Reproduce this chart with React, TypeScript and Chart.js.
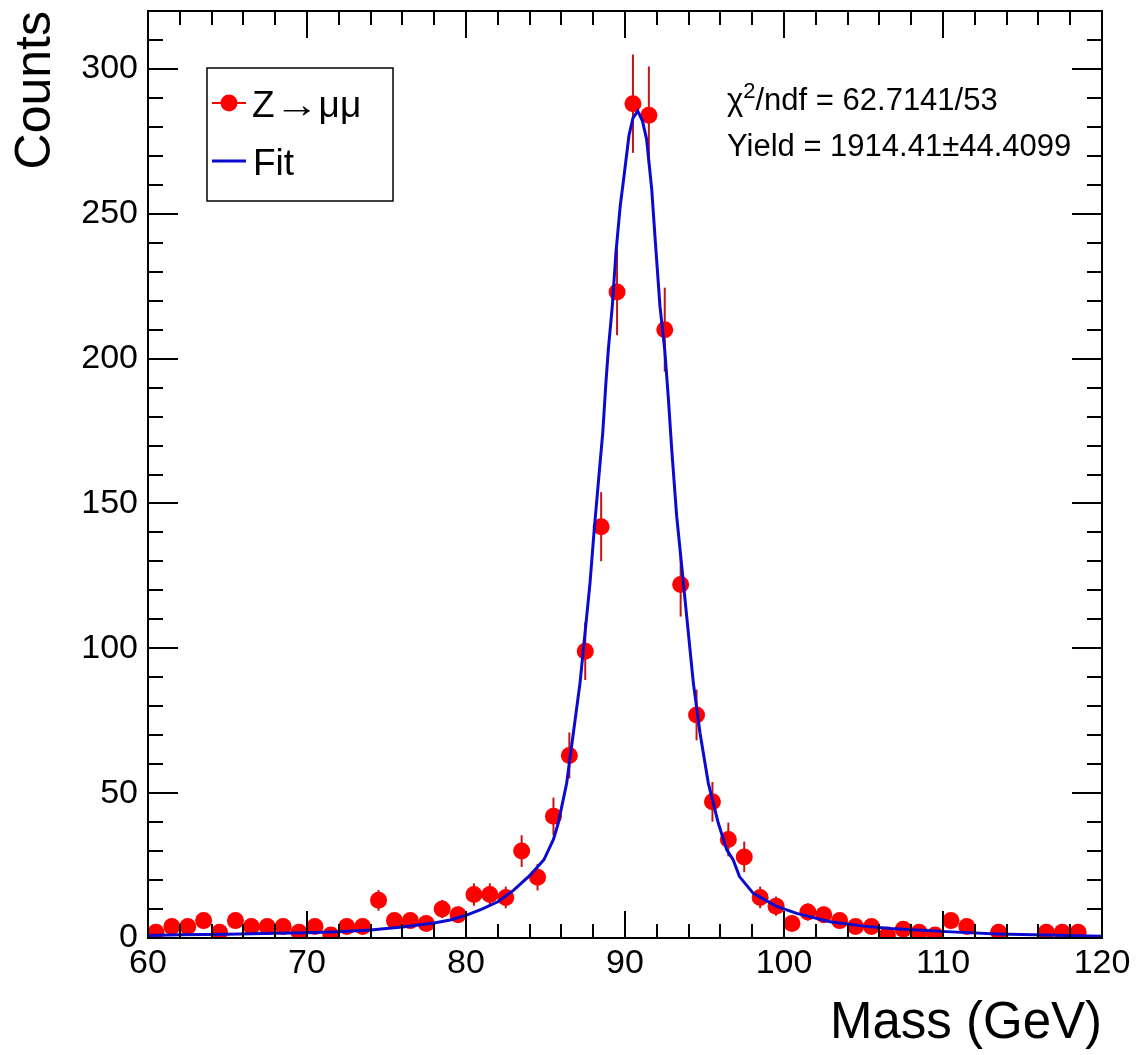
import React, { useEffect, useRef } from 'react';
import { Chart, registerables } from 'chart.js';

Chart.register(...registerables);

// ---- data ----
const binCenters = [
  60.5, 61.5, 62.5, 63.5, 64.5, 65.5, 66.5, 67.5, 68.5, 69.5,
  70.5, 71.5, 72.5, 73.5, 74.5, 75.5, 76.5, 77.5, 78.5, 79.5,
  80.5, 81.5, 82.5, 83.5, 84.5, 85.5, 86.5, 87.5, 88.5, 89.5,
  90.5, 91.5, 92.5, 93.5, 94.5, 95.5, 96.5, 97.5, 98.5, 99.5,
  100.5, 101.5, 102.5, 103.5, 104.5, 105.5, 106.5, 107.5, 108.5, 109.5,
  110.5, 111.5, 112.5, 113.5, 114.5, 115.5, 116.5, 117.5, 118.5, 119.5,
];
const counts = [
  2, 4, 4, 6, 2, 6, 4, 4, 4, 2,
  4, 1, 4, 4, 13, 6, 6, 5, 10, 8,
  15, 15, 14, 30, 21, 42, 63, 99, 142, 223,
  288, 284, 210, 122, 77, 47, 34, 28, 14, 11,
  5, 9, 8, 6, 4, 4, 1, 3, 2, 1,
  6, 4, 0, 2, 0, 0, 2, 2, 2, 0,
];
const fitMass = [
  60, 62, 65, 68, 70, 72, 74, 75, 76, 78, 79, 80, 81, 82, 83, 84, 84.9, 85.5, 85.8,
  86.33, 86.75, 87.17, 87.48, 87.8, 88.05, 88.32, 88.6, 88.8, 88.95, 89.2, 89.43,
  89.7, 89.96, 90.25, 90.5, 90.8, 91.1, 91.36, 91.68, 91.9, 92.2, 92.5, 92.73,
  92.94, 93.25, 93.57, 93.88, 94.3, 94.72, 95.24, 95.87, 96.4, 96.8, 97.2, 98.07,
  99.5, 100.8, 102.9, 105, 106.7, 110.2, 113.4, 116.5, 119.2, 120,
];
const fitCounts = [
  0.9, 1.1, 1.3, 1.6, 1.8, 2.2, 2.8, 3.3, 3.8, 5.2, 6.2, 7.8, 10, 12.5, 16.5, 21.5, 27, 34, 39.6,
  53.4, 70.7, 88, 105, 122.6, 140, 157, 174.4, 191.7, 203, 218, 236.6,
  252.7, 264, 277, 283, 285.5, 282, 275.7, 258.5, 241, 218, 203, 186,
  168.6, 145.6, 128.3, 111, 88, 70.7, 53.4, 39.6, 30.4, 27, 21.2, 15.4,
  11, 8.5, 5.6, 4.1, 3.3, 2.2, 1.4, 1.0, 0.7, 0.6,
];
const xRange = [60, 120];
const yRange = [0, 320];
const xMajorStep = 10;
const xMinorStep = 2;
const yMajorStep = 50;
const yMinorStep = 10;
const seriesLabel = 'Z→μμ';
const fitLabel = 'Fit';
const xTitle = 'Mass (GeV)';
const yTitle = 'Counts';
const chi2Text = '/ndf = 62.7141/53';
const yieldText = 'Yield = 1914.41±44.4099';

const FONT = "'Liberation Sans', Arial, Helvetica, sans-serif";
const RED = '#ff0000';
const BLUE = '#0b0bd0';

const errorBars = {
  id: 'errorBars',
  beforeDatasetsDraw(chart: any) {
    const { ctx, scales } = chart;
    const x = scales.x, y = scales.y;
    const a = chart.chartArea;
    ctx.save();
    ctx.beginPath();
    ctx.rect(a.left, a.top, a.right - a.left, a.bottom - a.top);
    ctx.clip();
    ctx.strokeStyle = '#c41414';
    ctx.lineWidth = 2;
    binCenters.forEach((m, i) => {
      const c = counts[i];
      if (c <= 0) return;
      const e = Math.sqrt(c);
      const px = x.getPixelForValue(m);
      ctx.beginPath();
      ctx.moveTo(px, y.getPixelForValue(c - e));
      ctx.lineTo(px, y.getPixelForValue(c + e));
      ctx.stroke();
    });
    ctx.restore();
  },
};

const frameTicks = {
  id: 'frameTicks',
  afterDatasetsDraw(chart: any) {
    const { ctx, scales } = chart;
    const x = scales.x, y = scales.y;
    const a = chart.chartArea;
    ctx.save();
    ctx.strokeStyle = '#000';
    ctx.lineWidth = 2;
    ctx.strokeRect(a.left, a.top, a.right - a.left, a.bottom - a.top);
    ctx.beginPath();
    for (let v = xRange[0]; v <= xRange[1] + 1e-9; v += xMinorStep) {
      const major = Math.abs(v / xMajorStep - Math.round(v / xMajorStep)) < 1e-6;
      const len = major ? 27 : 14;
      const px = Math.round(x.getPixelForValue(v));
      ctx.moveTo(px, a.bottom);
      ctx.lineTo(px, a.bottom - len);
      ctx.moveTo(px, a.top);
      ctx.lineTo(px, a.top + len);
    }
    for (let v = yRange[0]; v <= yRange[1] + 1e-9; v += yMinorStep) {
      const major = Math.abs(v / yMajorStep - Math.round(v / yMajorStep)) < 1e-6;
      const len = major ? 30 : 15;
      const py = Math.round(y.getPixelForValue(v));
      ctx.moveTo(a.left, py);
      ctx.lineTo(a.left + len, py);
      ctx.moveTo(a.right, py);
      ctx.lineTo(a.right - len, py);
    }
    ctx.stroke();
    ctx.restore();
  },
};

const legendStats = {
  id: 'legendStats',
  afterDraw(chart: any) {
    const { ctx } = chart;
    ctx.save();
    // legend box
    ctx.fillStyle = '#fff';
    ctx.fillRect(207, 68, 186, 133);
    ctx.strokeStyle = '#000';
    ctx.lineWidth = 1.5;
    ctx.strokeRect(207, 68, 186, 133);
    // entry 1
    ctx.strokeStyle = RED;
    ctx.lineWidth = 2;
    ctx.beginPath();
    ctx.moveTo(212, 103);
    ctx.lineTo(246, 103);
    ctx.stroke();
    ctx.fillStyle = RED;
    ctx.beginPath();
    ctx.arc(229, 103, 8.5, 0, Math.PI * 2);
    ctx.fill();
    ctx.fillStyle = '#000';
    ctx.textBaseline = 'alphabetic';
    ctx.textAlign = 'left';
    ctx.font = `37px ${FONT}`;
    // label drawn piecewise so the arrow gets the long ROOT look
    const zW = ctx.measureText('Z').width;
    ctx.fillText('Z', 252, 117);
    ctx.save();
    const arrowW = ctx.measureText('→').width;
    ctx.translate(252 + zW, 0);
    ctx.scale(44 / arrowW, 1);
    ctx.fillText('→', 0, 117);
    ctx.restore();
    ctx.fillText('μμ', 252 + zW + 44, 117);
    // entry 2
    ctx.strokeStyle = BLUE;
    ctx.lineWidth = 3;
    ctx.beginPath();
    ctx.moveTo(212, 161);
    ctx.lineTo(246, 161);
    ctx.stroke();
    ctx.fillStyle = '#000';
    ctx.font = `37px ${FONT}`;
    ctx.fillText(fitLabel, 253, 175);
    // stats
    const fs = 31;
    ctx.font = `${fs}px ${FONT}`;
    let xx = 727;
    const b1 = 110;
    ctx.fillText('χ', xx, b1);
    xx += ctx.measureText('χ').width;
    ctx.font = `${Math.round(fs * 0.7)}px ${FONT}`;
    ctx.fillText('2', xx, b1 - fs * 0.4);
    xx += ctx.measureText('2').width;
    ctx.font = `${fs}px ${FONT}`;
    ctx.fillText(chi2Text, xx, b1);
    ctx.fillText(yieldText, 727, 156);
    ctx.restore();
  },
};

export default function App() {
  const ref = useRef<HTMLCanvasElement | null>(null);
  useEffect(() => {
    if (!ref.current) return;
    const pts = binCenters
      .map((m, i) => ({ x: m, y: counts[i] }))
      .filter((p) => p.y > 0);
    const fit = fitMass.map((m, i) => ({ x: m, y: fitCounts[i] }));
    const chart = new Chart(ref.current, {
      type: 'scatter',
      data: {
        datasets: [
          {
            type: 'line',
            label: fitLabel,
            data: fit,
            borderColor: BLUE,
            borderWidth: 3,
            pointRadius: 0,
            tension: 0,
            fill: false,
            order: 0,
          } as any,
          {
            type: 'scatter',
            label: seriesLabel,
            data: pts,
            pointRadius: 8.5,
            pointBackgroundColor: RED,
            pointBorderWidth: 0,
            order: 1,
          } as any,
        ],
      },
      options: {
        responsive: false,
        animation: false,
        devicePixelRatio: 1,
        events: [],
        layout: { padding: { top: 11, right: 36, left: 0, bottom: 0 } },
        plugins: { legend: { display: false }, tooltip: { enabled: false } },
        scales: {
          x: {
            type: 'linear',
            min: xRange[0],
            max: xRange[1],
            grid: { display: false, drawTicks: false },
            border: { display: false },
            ticks: {
              stepSize: xMajorStep,
              includeBounds: false,
              autoSkip: false,
              maxRotation: 0,
              padding: 5,
              color: '#000',
              font: { size: 34, family: FONT },
            },
            title: {
              display: true,
              text: xTitle,
              align: 'end',
              color: '#000',
              font: { size: 51, family: FONT },
              padding: { top: 0, bottom: 0 },
            },
            afterFit: (s: any) => {
              s.height = 117;
              s.paddingLeft = 0;
              s.paddingRight = 0;
            },
          },
          y: {
            type: 'linear',
            min: yRange[0],
            max: yRange[1],
            grid: { display: false, drawTicks: false },
            border: { display: false },
            ticks: {
              stepSize: yMajorStep,
              includeBounds: false,
              padding: 10,
              color: '#000',
              font: { size: 34, family: FONT },
            },
            title: {
              display: true,
              text: yTitle,
              align: 'end',
              color: '#000',
              font: { size: 50, family: FONT },
              padding: { top: 6, bottom: 0 },
            },
            afterFit: (s: any) => {
              s.width = 148;
              s.paddingTop = 0;
              s.paddingBottom = 0;
            },
          },
        },
      } as any,
      plugins: [errorBars, frameTicks, legendStats],
    });
    return () => chart.destroy();
  }, []);
  return (
    <div style={{ position: 'absolute', left: 0, top: 0, width: 1138, height: 1055, background: '#fff' }}>
      <canvas ref={ref} width={1138} height={1055} style={{ width: 1138, height: 1055, display: 'block' }} />
    </div>
  );
}
